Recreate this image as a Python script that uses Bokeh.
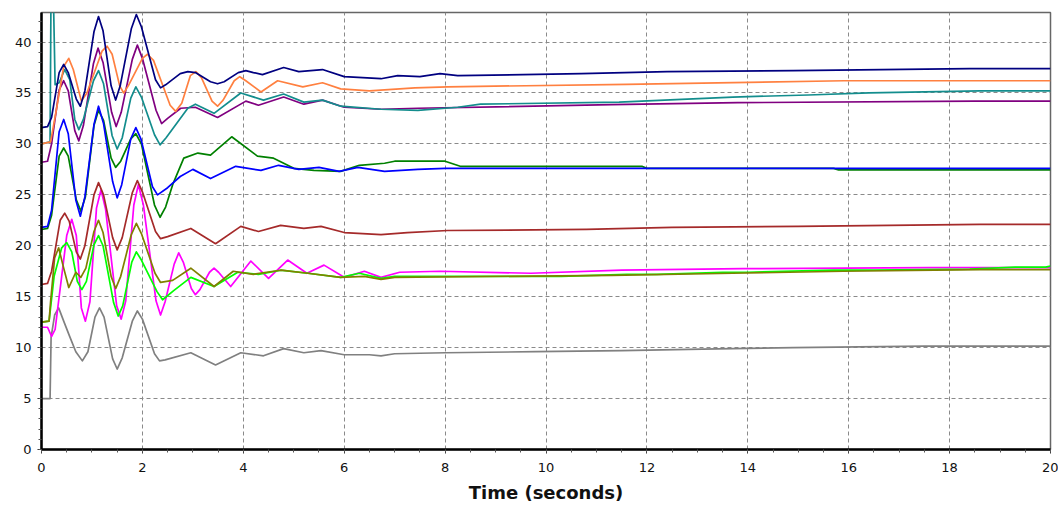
from bokeh.plotting import figure
from bokeh.models import SingleIntervalTicker, Range1d
from bokeh.embed import file_html
from bokeh.resources import INLINE

x_label = "Time (seconds)"
x_ticks_interval = 2
y_ticks_interval = 5

t_navy = [0, 0.12, 0.2, 0.35, 0.44, 0.53, 0.69, 0.77, 0.86, 1.04, 1.13, 1.22, 1.38, 1.47, 1.56, 1.78, 1.88, 1.98, 2.26, 2.36, 2.46, 2.75, 2.9, 3.05, 3.35, 3.49, 3.62, 3.9, 4.05, 4.2, 4.38, 4.8, 5.1, 5.57, 6.0, 6.73, 7.06, 7.5, 7.9, 8.25, 10.7, 12.4, 14.9, 18.4, 20]
v_navy = [31.6, 31.7, 32.6, 37.0, 37.8, 37.0, 34.4, 33.7, 35.2, 41.0, 42.5, 41.1, 35.7, 34.3, 35.7, 41.3, 42.7, 41.5, 36.3, 35.5, 35.8, 36.9, 37.1, 37.0, 36.1, 35.9, 36.1, 37.0, 37.2, 37.0, 36.8, 37.5, 37.1, 37.3, 36.6, 36.4, 36.7, 36.6, 36.9, 36.7, 36.9, 37.1, 37.2, 37.4, 37.4]

t_orange = [0, 0.18, 0.3, 0.44, 0.54, 0.63, 0.79, 0.9, 1.2, 1.3, 1.4, 1.55, 1.63, 1.72, 2.0, 2.1, 2.22, 2.55, 2.66, 2.78, 2.95, 3.06, 3.17, 3.38, 3.49, 3.6, 3.82, 3.93, 4.05, 4.35, 4.68, 5.18, 5.57, 5.93, 6.5, 7.4, 8.05, 11.6, 13.4, 15.9, 20]
v_orange = [30.0, 30.2, 33.5, 37.6, 38.4, 37.3, 34.2, 35.0, 39.1, 39.6, 38.8, 35.7, 35.0, 35.7, 38.4, 38.8, 38.2, 33.8, 33.2, 34.0, 36.7, 37.1, 36.5, 34.2, 33.7, 34.3, 36.2, 36.6, 36.2, 35.1, 36.2, 35.6, 36.0, 35.4, 35.2, 35.5, 35.6, 35.85, 36.0, 36.2, 36.2]

t_teal = [0, 0.17, 0.19, 0.23, 0.27, 0.35, 0.46, 0.56, 0.66, 0.74, 0.83, 1.03, 1.13, 1.23, 1.4, 1.5, 1.6, 1.77, 1.87, 1.98, 2.24, 2.35, 2.47, 2.9, 3.05, 3.42, 3.95, 4.4, 4.8, 5.2, 5.57, 5.93, 6.73, 7.46, 8.25, 8.7, 11.45, 12.8, 13.7, 15.2, 16.4, 18.6, 20]
v_teal = [30.0, 30.2, 46.0, 46.0, 35.8, 36.0, 37.3, 36.3, 32.4, 31.4, 32.4, 36.2, 37.2, 35.9, 30.8, 29.5, 30.6, 34.5, 35.6, 34.6, 30.9, 29.9, 30.6, 33.5, 33.9, 33.0, 35.0, 34.3, 34.9, 34.1, 34.3, 33.7, 33.4, 33.3, 33.6, 33.9, 34.1, 34.4, 34.6, 34.8, 35.0, 35.2, 35.2]

t_purple = [0, 0.12, 0.2, 0.35, 0.44, 0.53, 0.66, 0.74, 0.83, 1.03, 1.12, 1.22, 1.39, 1.48, 1.58, 1.8, 1.9, 2.0, 2.27, 2.38, 2.5, 2.76, 3.05, 3.49, 4.05, 4.3, 4.8, 5.2, 5.57, 6.0, 6.73, 7.46, 11.3, 13.8, 18.5, 20]
v_purple = [28.2, 28.3, 30.0, 35.3, 36.2, 35.2, 31.3, 30.3, 31.8, 37.9, 39.4, 38.0, 33.1, 31.7, 33.1, 38.3, 39.7, 38.4, 33.3, 32.0, 32.5, 33.5, 33.6, 32.6, 34.2, 33.8, 34.6, 33.9, 34.3, 33.6, 33.4, 33.5, 33.85, 34.05, 34.2, 34.2]

t_green = [0, 0.12, 0.2, 0.35, 0.44, 0.53, 0.69, 0.78, 0.87, 1.04, 1.13, 1.23, 1.38, 1.47, 1.57, 1.77, 1.87, 1.98, 2.24, 2.35, 2.46, 2.6, 2.82, 3.1, 3.35, 3.77, 4.28, 4.6, 5.0, 5.4, 5.93, 6.3, 6.8, 7.0, 8.0, 8.3, 11.9, 12.0, 15.7, 15.8, 20]
v_green = [21.6, 21.7, 23.0, 28.8, 29.6, 28.8, 24.5, 23.4, 24.8, 31.8, 33.3, 32.3, 28.6, 27.7, 28.3, 30.5, 31.0, 30.0, 24.0, 22.8, 23.8, 26.0, 28.6, 29.1, 28.9, 30.7, 28.8, 28.6, 27.6, 27.4, 27.3, 27.9, 28.1, 28.3, 28.3, 27.8, 27.8, 27.6, 27.6, 27.45, 27.45]

t_blue = [0, 0.12, 0.2, 0.35, 0.44, 0.53, 0.68, 0.77, 0.86, 1.04, 1.13, 1.23, 1.41, 1.5, 1.59, 1.77, 1.87, 1.97, 2.2, 2.3, 2.5, 2.75, 3.0, 3.35, 3.85, 4.35, 4.7, 5.1, 5.5, 5.9, 6.27, 6.8, 7.46, 8.0, 20]
v_blue = [21.8, 21.9, 23.5, 31.2, 32.4, 31.0, 24.5, 22.9, 24.8, 31.9, 33.7, 32.0, 26.3, 24.7, 26.0, 30.5, 31.6, 30.5, 25.8, 25.0, 25.7, 26.8, 27.5, 26.6, 27.8, 27.4, 27.9, 27.5, 27.7, 27.3, 27.7, 27.3, 27.5, 27.6, 27.6]

t_maroon = [0, 0.12, 0.2, 0.37, 0.46, 0.55, 0.69, 0.77, 0.86, 1.04, 1.13, 1.23, 1.41, 1.5, 1.6, 1.8, 1.9, 2.0, 2.26, 2.36, 2.5, 2.96, 3.45, 3.95, 4.3, 4.74, 5.2, 5.54, 6.0, 6.73, 7.25, 8.05, 10.8, 12.5, 15.0, 18.6, 20]
v_maroon = [16.2, 16.3, 17.5, 22.5, 23.2, 22.4, 19.4, 18.7, 20.0, 25.0, 26.2, 25.0, 20.8, 19.6, 20.8, 25.2, 26.4, 25.3, 21.4, 20.7, 20.9, 21.7, 20.2, 21.9, 21.4, 22.0, 21.7, 21.9, 21.3, 21.1, 21.3, 21.5, 21.6, 21.8, 21.9, 22.1, 22.1]

t_magenta = [0, 0.12, 0.2, 0.27, 0.5, 0.6, 0.69, 0.79, 0.87, 0.96, 1.09, 1.18, 1.27, 1.49, 1.58, 1.67, 1.83, 1.92, 2.02, 2.27, 2.36, 2.45, 2.63, 2.72, 2.81, 2.97, 3.05, 3.14, 3.33, 3.42, 3.51, 3.75, 4.15, 4.5, 4.88, 5.26, 5.6, 6.0, 6.4, 6.73, 7.1, 7.9, 9.7, 11.5, 13.9, 17.6, 20]
v_magenta = [12.0, 12.0, 11.1, 11.8, 21.0, 22.6, 21.0, 13.9, 12.6, 14.5, 23.7, 25.5, 23.6, 14.1, 12.8, 14.6, 24.0, 26.0, 24.0, 14.6, 13.2, 14.5, 18.2, 19.3, 18.4, 15.8, 15.2, 15.7, 17.4, 17.8, 17.4, 16.0, 18.5, 16.8, 18.6, 17.3, 18.1, 16.9, 17.5, 16.9, 17.4, 17.5, 17.3, 17.6, 17.75, 17.85, 17.85]

t_olive = [0, 0.15, 0.18, 0.26, 0.34, 0.43, 0.54, 0.68, 0.78, 0.88, 1.04, 1.13, 1.22, 1.38, 1.47, 1.57, 1.78, 1.88, 1.98, 2.25, 2.36, 2.6, 2.96, 3.42, 3.8, 4.2, 4.74, 5.28, 5.93, 6.4, 6.73, 7.0, 11.3, 13.7, 15.9, 18.6, 20]
v_olive = [12.5, 12.6, 14.5, 18.8, 19.8, 18.0, 15.9, 17.4, 16.9, 17.8, 21.4, 22.5, 21.3, 17.0, 15.8, 17.0, 21.1, 22.2, 21.2, 17.3, 16.4, 16.6, 17.8, 16.0, 17.5, 17.2, 17.6, 17.3, 16.9, 17.0, 16.7, 16.9, 17.1, 17.3, 17.5, 17.65, 17.65]

t_lime = [0, 0.15, 0.25, 0.4, 0.5, 0.6, 0.71, 0.8, 0.89, 1.04, 1.13, 1.22, 1.43, 1.52, 1.61, 1.79, 1.88, 1.98, 2.29, 2.4, 2.62, 2.96, 3.42, 3.89, 4.3, 4.74, 5.28, 5.93, 6.3, 6.73, 7.0, 9.7, 10.3, 11.6, 12.2, 13.5, 14.0, 15.7, 16.5, 18.4, 19.3, 19.9, 20]
v_lime = [12.5, 12.6, 17.0, 19.8, 20.3, 19.4, 16.5, 15.7, 16.5, 20.1, 21.0, 20.0, 14.4, 13.1, 14.1, 18.4, 19.4, 18.6, 15.5, 14.7, 15.6, 16.9, 16.0, 17.4, 17.2, 17.6, 17.3, 16.9, 17.3, 16.8, 17.0, 17.0, 17.0, 17.2, 17.2, 17.4, 17.4, 17.6, 17.6, 17.7, 17.9, 17.9, 18.0]

t_gray = [0, 0.17, 0.19, 0.26, 0.34, 0.44, 0.55, 0.68, 0.81, 0.92, 1.06, 1.15, 1.24, 1.41, 1.5, 1.6, 1.8, 1.9, 2.0, 2.24, 2.34, 2.45, 2.96, 3.45, 3.95, 4.4, 4.8, 5.2, 5.54, 6.0, 6.5, 6.73, 7.0, 8.0, 9.8, 11.5, 13.1, 14.9, 17.5, 20]
v_gray = [5.0, 5.0, 11.0, 13.2, 13.9, 12.6, 11.2, 9.6, 8.7, 9.6, 13.0, 13.9, 13.0, 8.9, 7.9, 9.0, 12.6, 13.6, 12.8, 9.4, 8.7, 8.8, 9.5, 8.3, 9.5, 9.2, 9.9, 9.5, 9.7, 9.3, 9.3, 9.2, 9.4, 9.5, 9.6, 9.7, 9.85, 10.0, 10.15, 10.15]

series = [
    (t_gray, v_gray, "#808080"),
    (t_magenta, v_magenta, "#FF00FF"),
    (t_lime, v_lime, "#00FF00"),
    (t_olive, v_olive, "#808000"),
    (t_maroon, v_maroon, "#A52A2A"),
    (t_green, v_green, "#008000"),
    (t_blue, v_blue, "#0000FF"),
    (t_purple, v_purple, "#800080"),
    (t_teal, v_teal, "#138D8D"),
    (t_orange, v_orange, "#FF8040"),
    (t_navy, v_navy, "#000080"),
]

p = figure(width=1058, height=507, x_range=Range1d(0, 20), y_range=Range1d(0, 42.9),
           output_backend="svg", toolbar_location=None,
           min_border_left=41, min_border_right=8, min_border_top=12, min_border_bottom=58)

for t, v, c in series:
    p.line(t, v, line_color=c, line_width=1.7, line_join="round")

p.xaxis.ticker = SingleIntervalTicker(interval=x_ticks_interval, num_minor_ticks=4)
p.yaxis.ticker = SingleIntervalTicker(interval=y_ticks_interval, num_minor_ticks=5)

for ax in (p.xaxis[0], p.yaxis[0]):
    ax.axis_line_color = "black"
    ax.axis_line_width = 2.5
    ax.major_tick_line_color = "#333333"
    ax.minor_tick_line_color = "#555555"
    ax.major_tick_in = 0
    ax.major_tick_out = 4
    ax.minor_tick_in = 0
    ax.minor_tick_out = 3
    ax.major_label_text_font = "DejaVu Sans"
    ax.major_label_text_font_size = "13px"
    ax.major_label_text_color = "#111111"

p.xaxis.major_label_standoff = 9
p.yaxis.major_label_standoff = 6
p.xaxis.axis_label = x_label
p.xaxis.axis_label_text_font = "DejaVu Sans"
p.xaxis.axis_label_text_font_style = "bold"
p.xaxis.axis_label_text_font_size = "18px"
p.xaxis.axis_label_text_color = "#111111"
p.xaxis.axis_label_standoff = 7

p.xgrid.grid_line_color = "#8a8a8a"
p.ygrid.grid_line_color = "#8a8a8a"
p.xgrid.grid_line_dash = "4 3"
p.ygrid.grid_line_dash = "4 3"
p.xgrid.grid_line_width = 1
p.ygrid.grid_line_width = 1

p.outline_line_color = "#666666"
p.outline_line_width = 1.5
p.background_fill_color = "white"
p.border_fill_color = "white"

open("out.html", "w").write(file_html(p, INLINE))
